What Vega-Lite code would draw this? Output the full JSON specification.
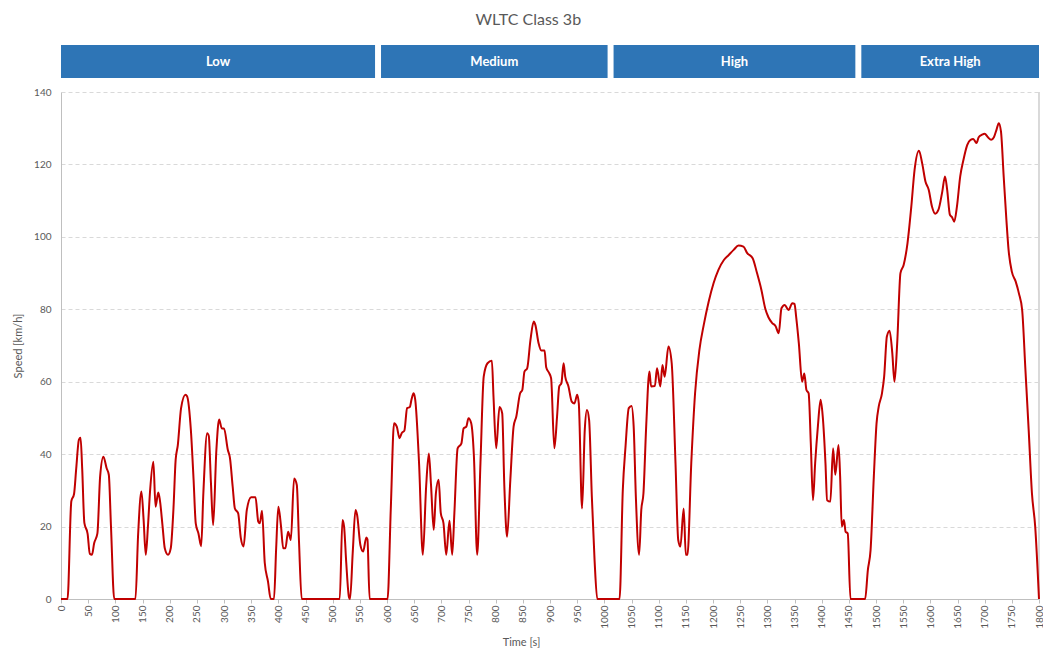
{
  "$schema": "https://vega.github.io/schema/vega-lite/v6.json",
  "background": "white",
  "padding": {"left": 12, "top": 12, "right": 0, "bottom": 5},
  "title": {"text": "WLTC Class 3b", "anchor": "middle", "fontSize": 16, "font": "Lato", "fontWeight": "normal", "color": "#595959", "offset": 17},
  "spacing": 9,
  "config": {"view": {"stroke": null}, "font": "Lato"},
  "vconcat": [
    {
      "width": 978,
      "height": 33,
      "data": {"values": [
        {"phase": "Low", "start": 0, "end": 578},
        {"phase": "Medium", "start": 589, "end": 1006},
        {"phase": "High", "start": 1017, "end": 1462},
        {"phase": "Extra High", "start": 1473, "end": 1800}
      ]},
      "layer": [
        {
          "mark": {"type": "rect", "color": "#2E75B6"},
          "encoding": {
            "x": {"field": "start", "type": "quantitative", "scale": {"domain": [0, 1800], "nice": false, "zero": false}, "axis": null},
            "x2": {"field": "end"}
          }
        },
        {
          "transform": [{"fold": ["start", "end"]}],
          "mark": {"type": "text", "color": "white", "fontWeight": "bold", "fontSize": 13, "font": "Lato"},
          "encoding": {
            "x": {"aggregate": "mean", "field": "value", "type": "quantitative", "scale": {"domain": [0, 1800], "nice": false, "zero": false}, "axis": null},
            "y": {"value": 16.5},
            "text": {"field": "phase", "type": "nominal"}
          }
        }
      ]
    },
    {
      "width": 978,
      "height": 507,
      "data": {"values": [
        {"t":0,"v":0},{"t":12,"v":0},{"t":19,"v":27},{"t":24,"v":29},{"t":28,"v":36},{"t":33,"v":44},{"t":36,"v":44.5},{"t":39,"v":36},{"t":43,"v":21},{"t":49,"v":18},{"t":53,"v":12.5},{"t":57,"v":12.2},{"t":61,"v":15.4},{"t":67,"v":18.1},{"t":72,"v":33.8},{"t":78,"v":39.3},{"t":84,"v":36.1},{"t":88,"v":34.3},{"t":92,"v":20},{"t":98,"v":0},
        {"t":137,"v":0},{"t":142,"v":18},{"t":148,"v":29.7},{"t":152,"v":22},{"t":156,"v":12.2},{"t":160,"v":20},{"t":164,"v":30},{"t":170,"v":37.9},{"t":174,"v":25.5},{"t":179,"v":29.4},{"t":182,"v":27.3},{"t":187,"v":20},{"t":191,"v":14},{"t":197,"v":12.2},{"t":202,"v":14},{"t":207,"v":25},{"t":211,"v":38.4},{"t":215,"v":42.5},{"t":221,"v":52.7},{"t":229,"v":56.4},{"t":232,"v":56},{"t":239,"v":46.7},{"t":244,"v":33},{"t":248,"v":20.9},{"t":253,"v":18.1},{"t":258,"v":14.6},{"t":262,"v":29.2},{"t":269,"v":45.8},{"t":272,"v":45},{"t":276,"v":32},{"t":280,"v":20.4},{"t":286,"v":41.2},{"t":291,"v":49.6},{"t":296,"v":47.1},{"t":300,"v":47.1},{"t":307,"v":41.2},{"t":311,"v":38.9},{"t":316,"v":31},{"t":320,"v":25},{"t":326,"v":23.7},{"t":331,"v":16.8},{"t":336,"v":14.5},{"t":342,"v":24.6},{"t":350,"v":28.1},{"t":358,"v":28.1},{"t":363,"v":21.4},{"t":366,"v":20.9},{"t":370,"v":24.4},{"t":375,"v":10},{"t":381,"v":4.8},{"t":386,"v":0},{"t":392,"v":0},{"t":396,"v":14},{"t":400,"v":25.5},{"t":405,"v":20},{"t":409,"v":14},{"t":413,"v":14},{"t":418,"v":18.6},{"t":423,"v":16.3},{"t":429,"v":33.3},{"t":434,"v":31.5},{"t":438,"v":16},{"t":443,"v":0},
        {"t":513,"v":0},{"t":518,"v":21.8},{"t":521,"v":20},{"t":525,"v":10},{"t":530,"v":0.5},{"t":532,"v":0},{"t":537,"v":13},{"t":542,"v":24.6},{"t":545,"v":23.2},{"t":551,"v":14.9},{"t":556,"v":13.1},{"t":562,"v":17},{"t":564,"v":16.5},{"t":568,"v":0},
        {"t":601,"v":0},{"t":607,"v":25},{"t":613,"v":48.5},{"t":618,"v":47.6},{"t":623,"v":44.4},{"t":627,"v":45.8},{"t":632,"v":46.5},{"t":637,"v":52.7},{"t":642,"v":53},{"t":645,"v":55},{"t":649,"v":56.8},{"t":652,"v":55},{"t":659,"v":37.5},{"t":666,"v":12.2},{"t":672,"v":31},{"t":677,"v":40.2},{"t":681,"v":31.5},{"t":686,"v":19.1},{"t":690,"v":29.2},{"t":695,"v":32.9},{"t":699,"v":23.7},{"t":704,"v":20.9},{"t":709,"v":12.2},{"t":715,"v":21.6},{"t":720,"v":12.2},{"t":724,"v":23.7},{"t":730,"v":41.6},{"t":737,"v":43},{"t":741,"v":47.1},{"t":746,"v":47.6},{"t":750,"v":49.9},{"t":755,"v":48.5},{"t":760,"v":39.3},{"t":766,"v":12.2},{"t":772,"v":37.5},{"t":778,"v":61.4},{"t":785,"v":65.1},{"t":793,"v":65.8},{"t":796,"v":55.9},{"t":801,"v":41.6},{"t":807,"v":53},{"t":812,"v":51.3},{"t":816,"v":31},{"t":821,"v":17.2},{"t":827,"v":32.9},{"t":833,"v":47.6},{"t":838,"v":50.4},{"t":845,"v":56.8},{"t":849,"v":57.7},{"t":853,"v":62.8},{"t":858,"v":63.7},{"t":864,"v":71.5},{"t":870,"v":76.6},{"t":873,"v":75.7},{"t":879,"v":70.6},{"t":884,"v":68.6},{"t":890,"v":68.6},{"t":893,"v":64},{"t":898,"v":62.5},{"t":902,"v":61},{"t":908,"v":41.6},{"t":913,"v":50.4},{"t":917,"v":58.7},{"t":921,"v":59.6},{"t":925,"v":65.1},{"t":928,"v":61.4},{"t":934,"v":58.7},{"t":940,"v":54.5},{"t":945,"v":54},{"t":950,"v":56.4},{"t":953,"v":54},{"t":959,"v":25},{"t":964,"v":46.7},{"t":968,"v":52.2},{"t":972,"v":49.4},{"t":977,"v":28.3},{"t":982,"v":10.8},{"t":987,"v":0},
        {"t":1028,"v":0},{"t":1034,"v":30.1},{"t":1039,"v":42.1},{"t":1045,"v":52.7},{"t":1050,"v":53.3},{"t":1054,"v":47.6},{"t":1058,"v":28.3},{"t":1064,"v":12.2},{"t":1068,"v":24.6},{"t":1072,"v":29.2},{"t":1077,"v":47.6},{"t":1083,"v":62.8},{"t":1086,"v":58.7},{"t":1093,"v":58.8},{"t":1097,"v":63.7},{"t":1103,"v":58.7},{"t":1107,"v":64.6},{"t":1111,"v":61.4},{"t":1118,"v":69.7},{"t":1124,"v":65.1},{"t":1131,"v":37.5},{"t":1136,"v":16.3},{"t":1140,"v":14.5},{"t":1146,"v":25},{"t":1150,"v":12.2},{"t":1153,"v":12.2},{"t":1160,"v":37.5},{"t":1167,"v":56.8},{"t":1175,"v":68.8},{"t":1183,"v":75.7},{"t":1192,"v":82.1},{"t":1201,"v":87.2},{"t":1210,"v":90.9},{"t":1220,"v":93.6},{"t":1229,"v":95},{"t":1238,"v":96.4},{"t":1247,"v":97.6},{"t":1256,"v":97.3},{"t":1263,"v":95.5},{"t":1273,"v":94.1},{"t":1281,"v":90},{"t":1289,"v":85.4},{"t":1296,"v":80.3},{"t":1302,"v":77.8},{"t":1309,"v":76.2},{"t":1315,"v":75.4},{"t":1321,"v":73.4},{"t":1326,"v":80.3},{"t":1332,"v":81.2},{"t":1339,"v":79.8},{"t":1346,"v":81.7},{"t":1350,"v":81.5},{"t":1353,"v":78},{"t":1358,"v":70.6},{"t":1364,"v":60},{"t":1368,"v":62.3},{"t":1372,"v":57.7},{"t":1376,"v":56.8},{"t":1380,"v":43},{"t":1384,"v":27.3},{"t":1388,"v":37.5},{"t":1393,"v":47.6},{"t":1398,"v":55},{"t":1402,"v":50.4},{"t":1407,"v":37.5},{"t":1410,"v":27.3},{"t":1416,"v":26.9},{"t":1421,"v":41.6},{"t":1425,"v":34.3},{"t":1431,"v":42.5},{"t":1434,"v":33.8},{"t":1437,"v":20},{"t":1441,"v":21.8},{"t":1444,"v":18.6},{"t":1448,"v":18.1},{"t":1453,"v":0},
        {"t":1480,"v":0},{"t":1485,"v":8},{"t":1490,"v":13.5},{"t":1496,"v":33.8},{"t":1501,"v":48.5},{"t":1505,"v":53.1},{"t":1511,"v":56.8},{"t":1515,"v":61.4},{"t":1520,"v":72.5},{"t":1525,"v":74.1},{"t":1530,"v":67.9},{"t":1534,"v":60},{"t":1539,"v":70.6},{"t":1545,"v":90},{"t":1551,"v":92.3},{"t":1558,"v":98.3},{"t":1565,"v":108.4},{"t":1571,"v":118.5},{"t":1579,"v":123.8},{"t":1585,"v":120.3},{"t":1591,"v":115.3},{"t":1597,"v":113},{"t":1603,"v":108.4},{"t":1609,"v":106.4},{"t":1615,"v":107.5},{"t":1622,"v":112.5},{"t":1627,"v":116.7},{"t":1631,"v":113},{"t":1636,"v":106.1},{"t":1640,"v":105.4},{"t":1644,"v":104.2},{"t":1649,"v":108.4},{"t":1655,"v":116.7},{"t":1661,"v":121.3},{"t":1668,"v":125.4},{"t":1674,"v":126.8},{"t":1679,"v":127},{"t":1685,"v":125.9},{"t":1689,"v":127.5},{"t":1695,"v":128.2},{"t":1700,"v":128.5},{"t":1706,"v":127.5},{"t":1712,"v":126.8},{"t":1717,"v":127.5},{"t":1722,"v":129.7},{"t":1726,"v":131.4},{"t":1730,"v":129.1},{"t":1735,"v":116.7},{"t":1740,"v":104.7},{"t":1744,"v":96.4},{"t":1750,"v":90.4},{"t":1757,"v":87.7},{"t":1763,"v":84.4},{"t":1769,"v":79.8},{"t":1775,"v":63.3},{"t":1781,"v":46.7},{"t":1787,"v":29.2},{"t":1793,"v":20},{"t":1800,"v":0}
      ]},
      "layer": [
        {
          "mark": {"type": "rule", "color": "#d9d9d9", "strokeWidth": 1},
          "encoding": {
            "x": {
              "datum": 1800, "type": "quantitative",
              "scale": {"domain": [0, 1800], "nice": false, "zero": false},
              "axis": {
                "values": [0,50,100,150,200,250,300,350,400,450,500,550,600,650,700,750,800,850,900,950,1000,1050,1100,1150,1200,1250,1300,1350,1400,1450,1500,1550,1600,1650,1700,1750,1800],
                "format": "d", "labelOverlap": false, "labelFlush": false,
                "labelAngle": 270, "grid": false, "domainColor": "#bfbfbf", "tickColor": "#bfbfbf", "tickSize": 4,
                "labelFontSize": 10, "labelColor": "#595959", "labelPadding": 2, "labelFont": "Lato",
                "title": "Time [s]",
                "titleFontSize": 11, "titleColor": "#595959", "titleFontWeight": "normal", "titleFont": "Lato", "titlePadding": 8, "titleX": 460
              }
            }
          }
        },
        {
          "mark": {"type": "line", "color": "#C00000", "strokeWidth": 2, "interpolate": "monotone"},
          "encoding": {
            "x": {
              "field": "t", "type": "quantitative", "title": "Time [s]",
              "scale": {"domain": [0, 1800], "nice": false, "zero": false},
              "axis": {
                "values": [0,50,100,150,200,250,300,350,400,450,500,550,600,650,700,750,800,850,900,950,1000,1050,1100,1150,1200,1250,1300,1350,1400,1450,1500,1550,1600,1650,1700,1750,1800],
                "format": "d", "labelOverlap": false, "labelFlush": false,
                "labelAngle": 270, "grid": false, "domainColor": "#bfbfbf", "tickColor": "#bfbfbf", "tickSize": 4,
                "labelFontSize": 10, "labelColor": "#595959", "labelPadding": 2, "labelFont": "Lato",
                "titleFontSize": 11, "titleColor": "#595959", "titleFontWeight": "normal", "titleFont": "Lato", "titlePadding": 8, "titleX": 460
              }
            },
            "y": {
              "field": "v", "type": "quantitative", "title": "Speed [km/h]",
              "scale": {"domain": [0, 140], "nice": false},
              "axis": {
                "values": [0,20,40,60,80,100,120,140],
                "grid": true, "gridDash": [4, 3], "gridColor": "#d9d9d9", "domainColor": "#bfbfbf", "ticks": false,
                "labelFontSize": 10, "labelColor": "#595959", "labelPadding": 10, "labelFont": "Lato",
                "titleFontSize": 11, "titleColor": "#595959", "titleFontWeight": "normal", "titleFont": "Lato", "titlePadding": 10
              }
            }
          }
        }
      ]
    }
  ]
}
